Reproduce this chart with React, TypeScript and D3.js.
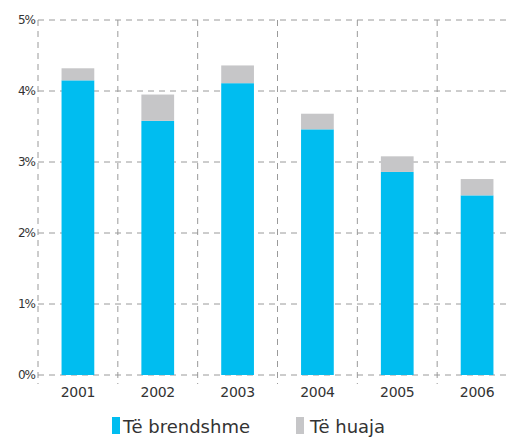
import React from "react";
import * as d3 from "d3";

const years = ["2001", "2002", "2003", "2004", "2005", "2006"];
const domestic = [4.15, 3.58, 4.11, 3.46, 2.86, 2.53];
const foreign = [0.17, 0.37, 0.25, 0.22, 0.22, 0.23];
const yTicks = [0, 1, 2, 3, 4, 5];
const seriesNames = ["Të brendshme", "Të huaja"];
const colors = ["#00BDF0", "#C6C6C8"];

const W = 509;
const H = 437;
const left = 38;
const right = 517;
const top = 20;
const bottom = 375;

export default function App() {
  const x = d3.scaleBand<string>().domain(years).range([left, right]).paddingInner(0.59).paddingOuter(0.295);
  const xGrid = d3.scaleLinear().domain([0, years.length]).range([left, right]);
  const y = d3.scaleLinear().domain([0, 5]).range([bottom, top]);
  const rows = years.map((yr, i) => ({ yr, a: domestic[i], b: foreign[i] }));
  const stack = d3.stack<any>().keys(["a", "b"])(rows as any);
  const font = "'DejaVu Sans', sans-serif";
  return (
    <svg width={W} height={H} style={{ position: "absolute", left: 0, top: 0, background: "#fff" }}>
      <g stroke="#9a9a9a" strokeWidth={1} strokeDasharray="6,5">
        {yTicks.map((t) => (
          <line key={"h" + t} x1={left} x2={right} y1={y(t)} y2={y(t)} />
        ))}
        {d3.range(years.length + 1).map((i) => (
          <line key={"v" + i} x1={xGrid(i)} x2={xGrid(i)} y1={top} y2={bottom + 9} />
        ))}
      </g>
      {stack.map((s, si) => (
        <g key={si} fill={colors[si]}>
          {s.map((d: any, i: number) => (
            <rect key={i} x={x(years[i])} width={x.bandwidth()} y={y(d[1])} height={y(d[0]) - y(d[1])} />
          ))}
        </g>
      ))}
      <g fontFamily={font} fontSize={12} fill="#333" textAnchor="end">
        {yTicks.map((t) => (
          <text key={t} x={35} y={y(t)} dy="0.35em" letterSpacing={-1}>{t + "%"}</text>
        ))}
      </g>
      <g fontFamily={font} fontSize={14} fill="#333" textAnchor="middle">
        {years.map((yr) => (
          <text key={yr} x={(x(yr) as number) + x.bandwidth() / 2} y={397} letterSpacing={-0.3}>{yr}</text>
        ))}
      </g>
      <g fontFamily={font} fontSize={18} fill="#333">
        <rect x={112} y={417} width={8} height={17} fill={colors[0]} />
        <text x={123} y={433}>{seriesNames[0]}</text>
        <rect x={296} y={417} width={8} height={17} fill={colors[1]} />
        <text x={310} y={433}>{seriesNames[1]}</text>
      </g>
    </svg>
  );
}
